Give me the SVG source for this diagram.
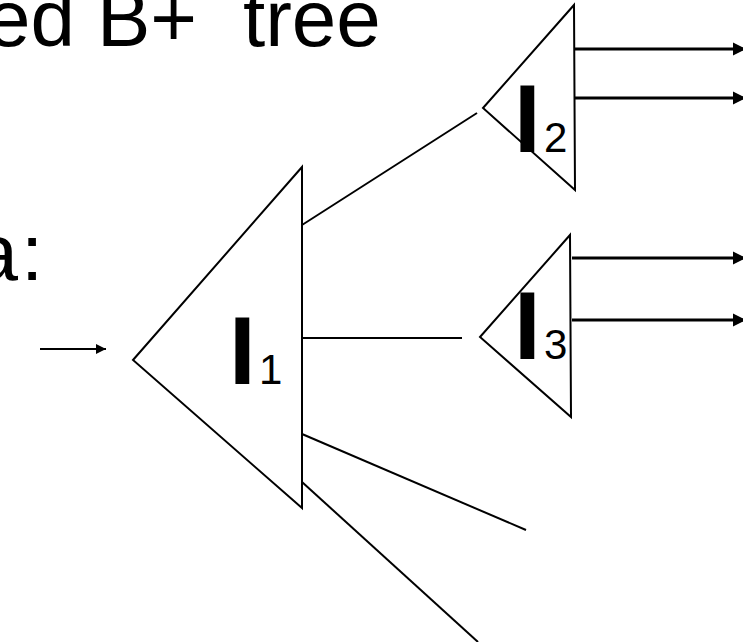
<svg xmlns="http://www.w3.org/2000/svg" width="743" height="642" viewBox="0 0 743 642">
<style>
.tri{fill:none;stroke:#000;stroke-width:2;stroke-linejoin:miter}
.ln{stroke:#000;stroke-width:2;fill:none}
.ar{stroke:#000;stroke-width:3;fill:none}
.big{font-family:"Liberation Sans",Arial,sans-serif;font-size:80px;fill:#000}
.lbl{font-family:"Liberation Sans",Arial,sans-serif;font-weight:bold;font-size:96px;fill:#000}
.sub{font-family:"Liberation Sans",Arial,sans-serif;font-size:42px;fill:#000}
</style>
<defs>
<marker id="ah" viewBox="0 0 10 10" refX="10" refY="5" markerWidth="4.5" markerHeight="5" markerUnits="strokeWidth" orient="auto"><path d="M0,0 L10,5 L0,10 z" fill="#000"/></marker>
<marker id="ah2" viewBox="0 0 10 10" refX="10" refY="5" markerWidth="6" markerHeight="5" markerUnits="strokeWidth" orient="auto"><path d="M0,0 L10,5 L0,10 z" fill="#000"/></marker>
</defs>
<g id="title">
<text class="big" x="-14" y="46">ed</text>
<text class="big" x="97" y="46">B+</text>
<text class="big" x="243" y="46">tree</text>
<text class="big" x="18" y="280" text-anchor="end">a</text>
<text class="big" x="21" y="280">:</text>
</g>
<g id="connectors">
<line class="ln" x1="40" y1="349" x2="106" y2="349" marker-end="url(#ah2)"/>
<line class="ln" x1="302" y1="225" x2="477" y2="113"/>
<line class="ln" x1="302" y1="338" x2="462" y2="338"/>
<line class="ln" x1="302" y1="434" x2="526" y2="530"/>
<line class="ln" x1="302" y1="482" x2="478" y2="642"/>
<line class="ar" x1="575" y1="49" x2="746" y2="49" marker-end="url(#ah)"/>
<line class="ar" x1="575" y1="98" x2="746" y2="98" marker-end="url(#ah)"/>
<line class="ar" x1="572" y1="258" x2="746" y2="258" marker-end="url(#ah)"/>
<line class="ar" x1="572" y1="320" x2="746" y2="320" marker-end="url(#ah)"/>
</g>
<g id="I1">
<polygon class="tri" points="133,360 302,167 302,508"/>
<text class="lbl" x="229" y="384">I</text>
<text class="sub" x="259" y="384">1</text>
</g>
<g id="I2">
<polygon class="tri" points="483,108 574,5 575,190"/>
<text class="lbl" x="514" y="152">I</text>
<text class="sub" x="544" y="152">2</text>
</g>
<g id="I3">
<polygon class="tri" points="480,337 570,235 571,417"/>
<text class="lbl" x="514" y="359">I</text>
<text class="sub" x="544" y="359">3</text>
</g>
</svg>
